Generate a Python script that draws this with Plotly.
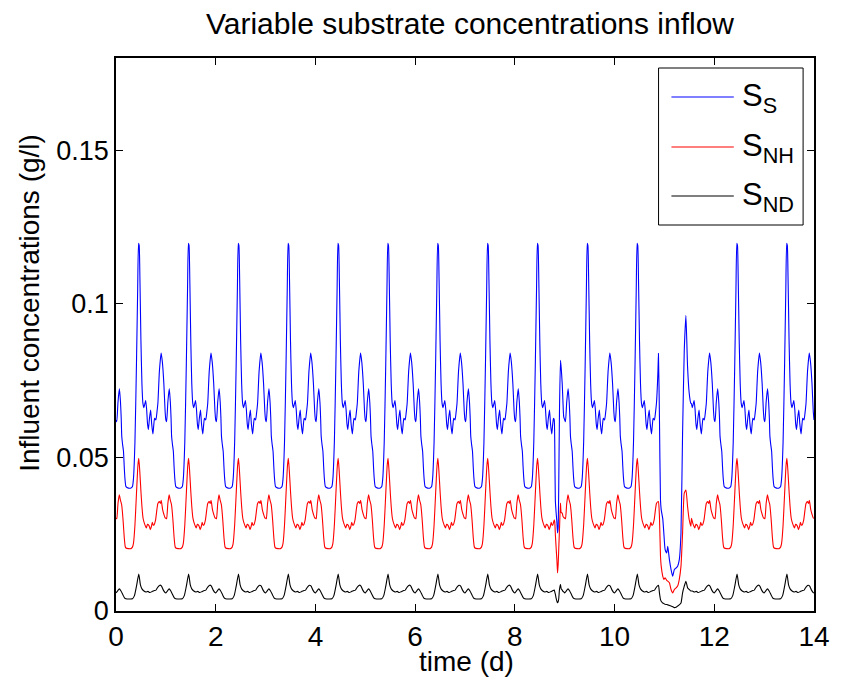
import numpy as np
import plotly.graph_objects as go

# ---------------- data ----------------
# Dry-weather daily profile (phase within a day, value in g/l)
SS_PHASE = [0.000, 0.015, 0.040, 0.068, 0.090, 0.105, 0.115, 0.130, 0.150, 0.165, 0.180, 0.200,
            0.250, 0.300, 0.330, 0.350, 0.380, 0.410, 0.435, 0.452, 0.465, 0.480, 0.500, 0.520,
            0.540, 0.560, 0.595, 0.615, 0.632, 0.650, 0.670, 0.695, 0.715, 0.741, 0.760, 0.775,
            0.800, 0.820, 0.840, 0.870, 0.905, 0.930, 0.960, 0.985]
SS_DAY = [0.0622, 0.0616, 0.0680, 0.0724, 0.0680, 0.0625, 0.0570, 0.0545, 0.0520, 0.0470, 0.0430, 0.0405,
          0.0400, 0.0400, 0.0405, 0.0430, 0.0550, 0.0800, 0.1050, 0.1197, 0.1190, 0.1080, 0.0880, 0.0740,
          0.0676, 0.0662, 0.0685, 0.0655, 0.0610, 0.0591, 0.0625, 0.0654, 0.0610, 0.0576, 0.0610, 0.0627,
          0.0622, 0.0645, 0.0676, 0.0780, 0.0840, 0.0810, 0.0740, 0.0650]

SNH_PHASE = [0.000, 0.015, 0.040, 0.066, 0.090, 0.113, 0.130, 0.146, 0.165, 0.185, 0.200, 0.250,
             0.300, 0.330, 0.350, 0.380, 0.410, 0.440, 0.457, 0.475, 0.500, 0.520, 0.543, 0.570,
             0.609, 0.630, 0.662, 0.688, 0.710, 0.728, 0.745, 0.761, 0.794, 0.820, 0.840, 0.870,
             0.890, 0.907, 0.935, 0.960, 0.985]
SNH_DAY = [0.0302, 0.0300, 0.0350, 0.0378, 0.0360, 0.0346, 0.0320, 0.0286, 0.0240, 0.0210, 0.0205, 0.0203,
           0.0203, 0.0208, 0.0220, 0.0280, 0.0380, 0.0475, 0.0497, 0.0460, 0.0390, 0.0340, 0.0302, 0.0285,
           0.0270, 0.0282, 0.0278, 0.0265, 0.0275, 0.0289, 0.0280, 0.0280, 0.0297, 0.0330, 0.0350, 0.0356,
           0.0350, 0.0360, 0.0330, 0.0315, 0.0303]

SND_PHASE = [0.000, 0.030, 0.066, 0.100, 0.140, 0.170, 0.200, 0.330, 0.370, 0.410, 0.457, 0.490,
             0.520, 0.560, 0.600, 0.640, 0.680, 0.720, 0.760, 0.800, 0.840, 0.880, 0.910, 0.950, 0.985]
SND_DAY = [0.0059, 0.0065, 0.0072, 0.0065, 0.0052, 0.0043, 0.0040, 0.0040, 0.0050, 0.0080, 0.0120, 0.0085,
           0.0072, 0.0065, 0.0062, 0.0064, 0.0060, 0.0063, 0.0066, 0.0068, 0.0078, 0.0084, 0.0082, 0.0068, 0.0060]

N_DAYS = 14

# Disturbance around day 8.8-9.0
EV1_T   = [8.790, 8.800, 8.812, 8.830, 8.843, 8.856, 8.868, 8.880, 8.895, 8.915, 8.930, 8.950, 8.965, 8.980, 9.000]
EV1_SS  = [0.0622, 0.0550, 0.0360, 0.0315, 0.0290, 0.0254, 0.0270, 0.0400, 0.0650, 0.0816, 0.0790, 0.0740, 0.0680, 0.0632, 0.0622]
EV1_SNH = [0.0297, 0.0290, 0.0250, 0.0200, 0.0167, 0.0124, 0.0150, 0.0200, 0.0265, 0.0351, 0.0320, 0.0319, 0.0308, 0.0305, 0.0302]
EV1_SND = [0.0068, 0.0062, 0.0055, 0.0040, 0.0032, 0.0027, 0.0030, 0.0040, 0.0070, 0.0086, 0.0072, 0.0068, 0.0064, 0.0062, 0.0059]

# Disturbance around day 10.9-11.5
EV2_T   = [10.880, 10.900, 10.921, 10.935, 10.967, 10.988, 11.014, 11.047, 11.067, 11.100, 11.133, 11.166,
           11.199, 11.232, 11.265, 11.298, 11.332, 11.364, 11.398, 11.431, 11.464, 11.497, 11.530]
EV2_SS  = [0.0838, 0.0632, 0.0362, 0.0330, 0.0300, 0.0254, 0.0200, 0.0189, 0.0211, 0.0167, 0.0135, 0.0113,
           0.0135, 0.0140, 0.0146, 0.0167, 0.0254, 0.0579, 0.0849, 0.0962, 0.0795, 0.0709, 0.0676]
EV2_SNH = [0.0356, 0.0308, 0.0178, 0.0146, 0.0113, 0.0103, 0.0108, 0.0100, 0.0097, 0.0092, 0.0070, 0.0059,
           0.0070, 0.0075, 0.0081, 0.0103, 0.0146, 0.0254, 0.0384, 0.0394, 0.0340, 0.0297, 0.0276]
EV2_SND = [0.0084, 0.0059, 0.0037, 0.0032, 0.0026, 0.0024, 0.0022, 0.0021, 0.0020, 0.0018, 0.0016, 0.0014,
           0.0011, 0.0012, 0.0016, 0.0020, 0.0026, 0.0059, 0.0081, 0.0097, 0.0076, 0.0070, 0.0065]

X_TICKS = [0, 2, 4, 6, 8, 10, 12, 14]
Y_TICKS = [0, 0.05, 0.1, 0.15]
Y_TICK_TEXT = ["0", "0.05", "0.1", "0.15"]


def build(phase, day, ev1, ev2):
    t = []
    v = []
    for d in range(N_DAYS):
        for p, val in zip(phase, day):
            t.append(d + p)
            v.append(val)
    t.append(float(N_DAYS))
    v.append(day[0])
    t = np.array(t)
    v = np.array(v)
    for et, ev in (ev1, ev2):
        keep = (t < et[0]) | (t > et[-1])
        t = np.concatenate([t[keep], np.array(et)])
        v = np.concatenate([v[keep], np.array(ev)])
    order = np.argsort(t, kind="stable")
    return t[order], v[order]


t_ss, v_ss = build(SS_PHASE, SS_DAY, (EV1_T, EV1_SS), (EV2_T, EV2_SS))
t_nh, v_nh = build(SNH_PHASE, SNH_DAY, (EV1_T, EV1_SNH), (EV2_T, EV2_SNH))
t_nd, v_nd = build(SND_PHASE, SND_DAY, (EV1_T, EV1_SND), (EV2_T, EV2_SND))

FONT = "Liberation Sans, Arial, Helvetica, sans-serif"

fig = go.Figure()
series = [
    ("S<sub>S</sub>", t_ss, v_ss, "#0000ff"),
    ("S<sub>NH</sub>", t_nh, v_nh, "#ff0000"),
    ("S<sub>ND</sub>", t_nd, v_nd, "#000000"),
]
for name, tt, vv, col in series:
    fig.add_trace(go.Scatter(x=tt, y=vv, mode="lines", name=name,
                             line=dict(color=col, width=1.1, shape="spline", smoothing=0.5),
                             showlegend=False))

# plot area in pixels
L, R, T, B = 116, 21, 58, 78
W, H = 842, 689
pw, ph = W - L - R, H - T - B


def px_x(x):
    return (x - L) / pw


def px_y(y):
    return (H - B - y) / ph


shapes = []
annotations = []
# legend box (manual, matching the reference)
shapes.append(dict(type="rect", xref="paper", yref="paper",
                   x0=px_x(664), x1=px_x(810), y0=px_y(225), y1=px_y(68),
                   line=dict(color="black", width=1), fillcolor="white", layer="above"))
rows = [97, 147, 196]
for (name, _, _, col), ry in zip(series, rows):
    shapes.append(dict(type="line", xref="paper", yref="paper",
                       x0=px_x(677), x1=px_x(740), y0=px_y(ry), y1=px_y(ry),
                       line=dict(color=col, width=1.1), layer="above"))
    annotations.append(dict(xref="paper", yref="paper", x=px_x(746), y=px_y(ry + 1),
                            xanchor="left", yanchor="middle", text=name, showarrow=False,
                            font=dict(family=FONT, size=31, color="black")))

# axis titles
annotations.append(dict(xref="paper", yref="paper", x=px_x(470), y=px_y(661),
                        xanchor="center", yanchor="middle", text="time (d)", showarrow=False,
                        font=dict(family=FONT, size=28, color="black")))
annotations.append(dict(xref="paper", yref="paper", x=px_x(28), y=px_y(303),
                        xanchor="center", yanchor="middle", text="Influent concentrations (g/l)",
                        textangle=-90, showarrow=False,
                        font=dict(family=FONT, size=28, color="black")))

fig.update_layout(
    width=W, height=H,
    margin=dict(l=L, r=R, t=T, b=B),
    paper_bgcolor="white", plot_bgcolor="white",
    title=dict(text="Variable substrate concentrations inflow", x=470 / W,
               xanchor="center", y=1 - 23 / H, yanchor="middle",
               font=dict(family=FONT, size=30, color="black")),
    font=dict(family=FONT, size=27, color="black"),
    shapes=shapes, annotations=annotations,
    showlegend=False,
)
fig.update_xaxes(range=[0, 14], tickvals=X_TICKS, ticktext=[str(v) for v in X_TICKS],
                 showline=True, linecolor="black", linewidth=1.5, mirror="allticks",
                 ticks="inside", ticklen=7, tickcolor="black", tickwidth=1,
                 showgrid=False, zeroline=False, tickfont=dict(family=FONT, size=28))
fig.update_yaxes(range=[0, 0.18], tickvals=Y_TICKS, ticktext=Y_TICK_TEXT,
                 showline=True, linecolor="black", linewidth=1.5, mirror="allticks",
                 ticks="inside", ticklen=7, tickcolor="black", tickwidth=1,
                 showgrid=False, zeroline=False, tickfont=dict(family=FONT, size=27))

fig.write_html("out.html")
